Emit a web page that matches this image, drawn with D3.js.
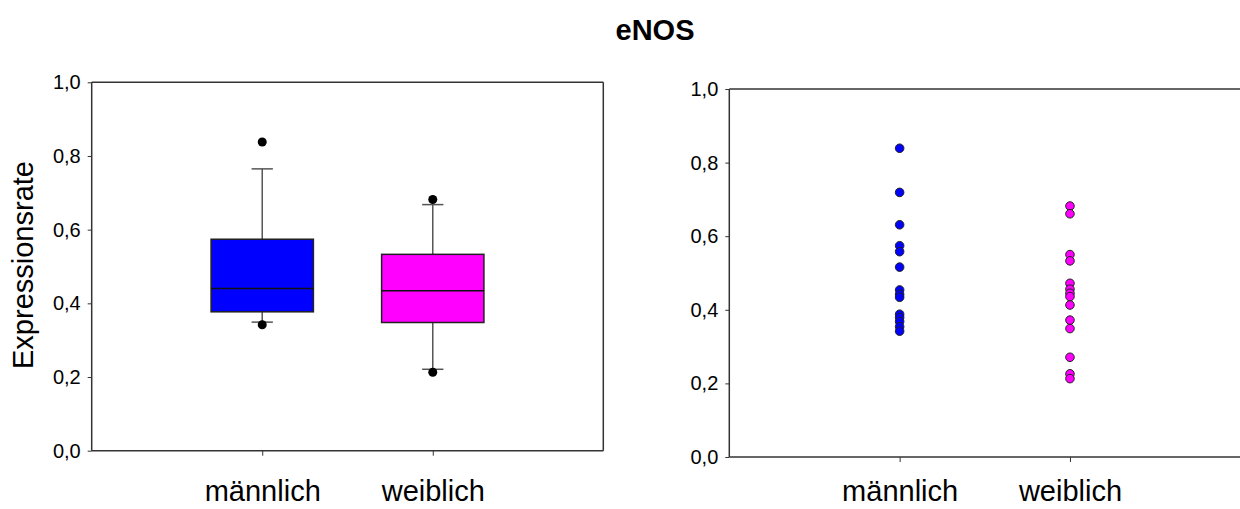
<!DOCTYPE html>
<html>
<head>
<meta charset="utf-8">
<script src="https://unpkg.com/d3@7/dist/d3.min.js"></script>
<style>
  body { margin: 0; background: #fff; }
  text { font-family: "Liberation Sans", Arial, sans-serif; }
</style>
</head>
<body>
<div class="chart"></div>
<script>
// data
const groups = ["männlich", "weiblich"];
const groupColors = ["#0000ff", "#ff00ff"];
const yTicks = [0, 0.2, 0.4, 0.6, 0.8, 1.0];

// box plot stats per group: [lowerWhisker, q1, median, q3, upperWhisker]
const boxMale = [0.349, 0.377, 0.440, 0.574, 0.765];
const boxFemale = [0.221, 0.348, 0.434, 0.533, 0.668];
const outliersMale = [0.838, 0.342];
const outliersFemale = [0.682, 0.213];

// single values (right panel)
const pointsMale = [0.839, 0.719, 0.631, 0.574, 0.558, 0.516, 0.454, 0.442, 0.434, 0.388, 0.379, 0.368, 0.354, 0.342];
const pointsFemale = [0.682, 0.661, 0.550, 0.533, 0.472, 0.456, 0.445, 0.436, 0.413, 0.372, 0.349, 0.271, 0.226, 0.213];

const W = 1240, H = 509;
const fmt = d => d3.format(".1f")(d).replace(".", ",");

const svg = d3.select(".chart")
  .append("svg")
  .attr("width", W)
  .attr("height", H);

// title
svg.append("text")
  .attr("x", 655)
  .attr("y", 40)
  .attr("text-anchor", "middle")
  .attr("font-size", "29px")
  .attr("font-weight", "bold")
  .text("eNOS");

// builds one panel frame and returns its scales
function panel(left, top, width, height, closeRight, labelPad) {
  const g = svg.append("g").attr("transform", `translate(${left},${top})`);

  const x = d3.scaleLinear().domain([0, 3]).range([0, width]);
  const y = d3.scaleLinear().domain([0, 1]).range([height, 0]);

  // y axis
  const yAxis = d3.axisLeft(y).tickValues(yTicks).tickFormat(fmt).tickSize(4).tickPadding(7);
  const ya = g.append("g").call(yAxis);
  ya.select(".domain").remove();
  ya.selectAll("line").attr("stroke", "#333");
  ya.selectAll("text")
    .attr("font-size", "20px")
    .attr("fill", "#000")
    .style("font-family", "'Liberation Sans', Arial, sans-serif");

  // x axis, ticks at the two groups
  const xAxis = d3.axisBottom(x).tickValues([1, 2]).tickFormat((d, i) => groups[i]).tickSize(5).tickPadding(labelPad);
  const xa = g.append("g").attr("transform", `translate(0,${height})`).call(xAxis);
  xa.select(".domain").remove();
  xa.selectAll("line").attr("stroke", "#333");
  xa.selectAll("text")
    .attr("font-size", "29px")
    .attr("fill", "#000")
    .style("font-family", "'Liberation Sans', Arial, sans-serif");

  // frame lines
  const frame = g.append("g").attr("stroke", "#333").attr("stroke-width", 1.5).attr("fill", "none");
  frame.append("line").attr("x1", 0).attr("x2", 0).attr("y1", 0).attr("y2", height);
  frame.append("line").attr("x1", 0).attr("x2", width).attr("y1", height).attr("y2", height);
  frame.append("line").attr("x1", 0).attr("x2", width).attr("y1", 0).attr("y2", 0);
  if (closeRight) {
    frame.append("line").attr("x1", width).attr("x2", width).attr("y1", 0).attr("y2", height);
  }

  return { g, x, y };
}

// ---- left panel: box plots ----
const p1 = panel(91.7, 82.3, 511.6, 368.4, true, 25);
const boxes = [
  { stats: boxMale, out: outliersMale, color: groupColors[0], pos: 1 },
  { stats: boxFemale, out: outliersFemale, color: groupColors[1], pos: 2 }
];
const boxW = p1.x(0.6) - p1.x(0);
const capW = p1.x(0.125) - p1.x(0);

boxes.forEach(b => {
  const cx = p1.x(b.pos);
  const [lw, q1, med, q3, uw] = b.stats;
  const bg = p1.g.append("g");

  // whiskers
  bg.append("line").attr("x1", cx).attr("x2", cx).attr("y1", p1.y(q3)).attr("y2", p1.y(uw))
    .attr("stroke", "#555").attr("stroke-width", 1.5);
  bg.append("line").attr("x1", cx).attr("x2", cx).attr("y1", p1.y(q1)).attr("y2", p1.y(lw))
    .attr("stroke", "#555").attr("stroke-width", 1.5);
  [uw, lw].forEach(v => {
    bg.append("line").attr("x1", cx - capW / 2).attr("x2", cx + capW / 2)
      .attr("y1", p1.y(v)).attr("y2", p1.y(v))
      .attr("stroke", "#555").attr("stroke-width", 1.5);
  });

  // box
  bg.append("rect")
    .attr("x", cx - boxW / 2)
    .attr("y", p1.y(q3))
    .attr("width", boxW)
    .attr("height", p1.y(q1) - p1.y(q3))
    .attr("fill", b.color)
    .attr("stroke", "#222")
    .attr("stroke-width", 1.5);
  bg.append("line").attr("x1", cx - boxW / 2).attr("x2", cx + boxW / 2)
    .attr("y1", p1.y(med)).attr("y2", p1.y(med))
    .attr("stroke", "#111").attr("stroke-width", 1.5);

  // outliers
  bg.selectAll("circle")
    .data(b.out)
    .join("circle")
    .attr("cx", cx)
    .attr("cy", d => p1.y(d))
    .attr("r", 4.5)
    .attr("fill", "#000");
});

// y label
svg.append("text")
  .attr("transform", "translate(33,265) rotate(-90)")
  .attr("text-anchor", "middle")
  .attr("font-size", "29px")
  .text("Expressionsrate");

// ---- right panel: single values ----
const p2 = panel(729.3, 89, 511, 368, false, 18);
const pointSets = [
  { vals: pointsMale, color: groupColors[0], pos: 1 },
  { vals: pointsFemale, color: groupColors[1], pos: 2 }
];
pointSets.forEach(s => {
  p2.g.append("g")
    .selectAll("circle")
    .data(s.vals)
    .join("circle")
    .attr("cx", p2.x(s.pos))
    .attr("cy", d => p2.y(d))
    .attr("r", 4.3)
    .attr("fill", s.color)
    .attr("stroke", "#222")
    .attr("stroke-width", 1);
});
</script>
</body>
</html>
